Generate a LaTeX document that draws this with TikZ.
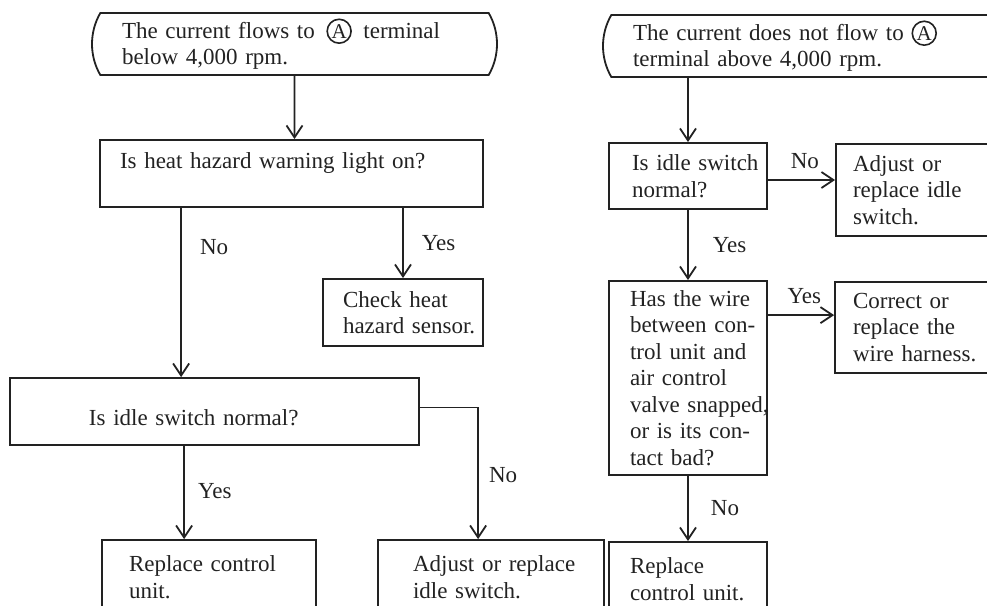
\documentclass[tikz,border=0pt]{standalone}
\usepackage{fontspec}
\setmainfont{Liberation Serif}
\usetikzlibrary{arrows.meta,positioning,shapes.misc}
\definecolor{ink}{HTML}{222222}
\newcommand{\circA}{\tikz[baseline=(ca.base), x=1pt, y=1pt]\node[circle, draw=ink, line width=0.8pt, minimum size=0pt, text width={}, text height={}, text depth={}, inner sep=0.6pt, font=\fontsize{10.5}{10.5}\selectfont] (ca) {A};}
\newcommand{\boxfont}{\fontsize{11.5}{13.25}\selectfont\hyphenpenalty=10000\exhyphenpenalty=10000}

\begin{document}
\begin{tikzpicture}[
  x=0.5pt, y=-0.5pt,
  box/.style={draw=ink, line width=0.9pt, rectangle, align=left, inner xsep=0pt, inner ysep=0pt, text=ink, font=\boxfont},
  term/.style={draw=ink, line width=0.9pt, rounded rectangle, rounded rectangle arc length=60, align=left, inner xsep=0pt, inner ysep=0pt, text=ink, font=\boxfont},
  arr/.style={-{Straight Barb[length=6pt,width=8pt]}, line width=0.9pt, color=ink},
  lbl/.style={inner sep=1pt, text=ink, font=\boxfont}
]
  \useasboundingbox (0,0) rectangle (987,606);

  % left branch
  \node[term, minimum width=202.5pt, minimum height=31pt, text width=172.5pt] (start1) at (294.5,44) {The current flows to\enspace\circA\enspace terminal\\below 4,000 rpm.};
  \node[box, minimum width=191.5pt, minimum height=33.5pt, text width=171.5pt, text depth=13pt] (heat) at (291.5,173.5) {Is heat hazard warning light on?};
  \node[box, minimum width=80pt, minimum height=33.5pt, text width=60pt] (check) at (403,312.5) {Check heat\\hazard~sensor.};
  \node[box, minimum width=204.5pt, minimum height=33.5pt, text width=125.5pt, text height=14.5pt] (idleL) at (214.5,411.5) {Is idle switch normal?};
  \node[box, minimum width=107pt, minimum height=37pt, text width=80pt] (repl1) at (209,577) {Replace control\\unit.};
  \node[box, minimum width=113pt, minimum height=37pt, text width=78pt] (adjL) at (491,577) {Adjust~or~replace\\idle switch.};

  % right branch
  \node[term, minimum width=202.5pt, minimum height=31pt, text width=172.5pt] (start2) at (805.5,46) {The current does not flow to \circA\\terminal above 4,000 rpm.};
  \node[box, minimum width=79pt, minimum height=33pt, text width=56pt] (idleR) at (688,176) {Is~idle~switch\\normal?};
  \node[box, minimum width=82pt, minimum height=46pt, text width=65pt] (adjR) at (918,190) {Adjust or\\replace idle\\switch.};
  \node[box, minimum width=79pt, minimum height=97pt, text width=58pt] (wire) at (688,378) {Has~the~wire\\between~con-\\trol~unit~and\\air control\\valve~snapped,\\or~is~its~con-\\tact bad?};
  \node[box, minimum width=82.5pt, minimum height=45.5pt, text width=64.5pt] (correct) at (917.5,327.5) {Correct or\\replace the\\wire harness.};
  \node[box, minimum width=79pt, minimum height=37pt, text width=58pt] (repl2) at (688,579) {Replace\\control unit.};

  \draw[arr] (start1) -- (start1 |- heat.north);
  \draw[arr] ([xshift=41pt]heat.south west) -- ([xshift=86pt]idleL.north west) node[lbl, pos=.23, right=8pt] {No};
  \draw[arr] (check |- heat.south) -- (check) node[lbl, pos=.5, right=8pt] {Yes};
  \draw[arr] ([xshift=87.5pt]idleL.south west) -- ([xshift=41.5pt]repl1.north west) node[lbl, pos=.49, right=5.5pt] {Yes};
  \draw[arr] ([yshift=2pt]idleL.east) -| ([xshift=50.5pt]adjL.north west) node[lbl, pos=.756, right=4pt] {No};

  \draw[arr] (idleR |- start2.south) -- (idleR);
  \draw[arr] ([yshift=-2pt]idleR.east) -- ([yshift=5pt]adjR.west) node[lbl, pos=.55, above=4pt] {No};
  \draw[arr] (idleR) -- (wire) node[lbl, pos=.5, right=11pt] {Yes};
  \draw[arr] ([yshift=-17.5pt]wire.north east) -- ([yshift=-17pt]correct.north west) node[lbl, pos=.55, above=4pt] {Yes};
  \draw[arr] (wire) -- (repl2) node[lbl, pos=.49, right=10pt] {No};
\end{tikzpicture}
\end{document}
